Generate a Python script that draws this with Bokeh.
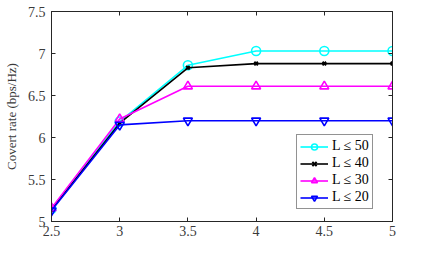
from bokeh.plotting import figure
from bokeh.models import LinearAxis, FixedTicker, Legend, LegendItem, Label, Range1d
from bokeh.embed import file_html
from bokeh.resources import INLINE

x_vals = [2.5, 3, 3.5, 4, 4.5, 5]
l50 = [5.15, 6.19, 6.86, 7.03, 7.03, 7.03]
l40 = [5.14, 6.17, 6.83, 6.88, 6.88, 6.88]
l30 = [5.16, 6.22, 6.61, 6.61, 6.61, 6.61]
l20 = [5.13, 6.15, 6.20, 6.20, 6.20, 6.20]
labels = ["L \u2264 50", "L \u2264 40", "L \u2264 30", "L \u2264 20"]
x_ticks = [2.5, 3, 3.5, 4, 4.5, 5]
y_ticks = [5, 5.5, 6, 6.5, 7, 7.5]

FONT = "Liberation Serif"
TXT = "#3a3a3a"
p = figure(width=427, height=258, output_backend="svg", toolbar_location=None,
           x_range=Range1d(2.5, 5), y_range=Range1d(5, 7.5),
           min_border_left=50, min_border_right=35, min_border_top=11, min_border_bottom=37)
p.xgrid.visible = False
p.ygrid.visible = False
p.outline_line_color = "#262626"
p.background_fill_color = "white"

for ax in [p.xaxis[0], p.yaxis[0]]:
    ax.major_tick_in = 4
    ax.major_tick_out = 0
    ax.minor_tick_in = 0
    ax.minor_tick_out = 0
    ax.axis_line_color = "#262626"
    ax.major_tick_line_color = "#262626"
    ax.major_label_text_font = FONT
    ax.major_label_text_font_size = "14px"
    ax.major_label_text_color = TXT
p.xaxis[0].ticker = FixedTicker(ticks=x_ticks)
p.yaxis[0].ticker = FixedTicker(ticks=y_ticks)
p.xaxis[0].major_label_standoff = 4
p.yaxis[0].major_label_standoff = 6
p.yaxis[0].axis_label = "Covert rate (bps/Hz)"
p.yaxis[0].axis_label_text_font = FONT
p.yaxis[0].axis_label_text_font_style = "normal"
p.yaxis[0].axis_label_text_font_size = "13px"
p.yaxis[0].axis_label_text_color = TXT
p.yaxis[0].axis_label_standoff = 6

for side, tk in [("above", x_ticks), ("right", y_ticks)]:
    ax = LinearAxis(ticker=FixedTicker(ticks=tk), major_tick_in=4, major_tick_out=0,
                    minor_tick_in=0, minor_tick_out=0,
                    major_label_overrides={float(t): "" for t in tk},
                    axis_line_color="#262626", major_tick_line_color="#262626",
                    major_label_standoff=0)
    p.add_layout(ax, side)

series = [
    (l50, "#00FFFF", "circle"),
    (l40, "#000000", "x"),
    (l30, "#FF00FF", "triangle"),
    (l20, "#0000FF", "inverted_triangle"),
]
items = []
for (vals, col, mk), lab in zip(series, labels):
    r1 = p.line(x_vals, vals, line_color=col, line_width=1.6)
    if mk == "x":
        r2 = p.scatter(x_vals, vals, marker="x", size=5, line_color=col, line_width=2)
    else:
        r2 = p.scatter(x_vals, vals, marker=mk, size=9, line_color=col, fill_color=None, line_width=1.6)
    items.append(LegendItem(label=lab, renderers=[r1, r2]))

leg = Legend(items=items, location=(245, 12))
leg.label_text_font = FONT
leg.label_text_font_size = "14px"
leg.label_text_color = "#000000"
leg.glyph_width = 28
leg.glyph_height = 15
leg.label_height = 15
leg.spacing = 1
leg.padding = 3
leg.margin = 0
leg.label_standoff = 4
leg.border_line_color = "#262626"
leg.border_line_width = 1
p.add_layout(leg, "center")

# x-axis label built from pieces: P_{b,max}(w)
p.add_layout(Label(x=145, y=-30, x_units="screen", y_units="screen", text="P",
                   text_font=FONT, text_font_style="italic", text_font_size="14px",
                   text_color=TXT, text_baseline="alphabetic"))
p.add_layout(Label(x=153, y=-32, x_units="screen", y_units="screen", text="b,max",
                   text_font=FONT, text_font_size="10px", text_color=TXT,
                   text_baseline="alphabetic"))
p.add_layout(Label(x=174, y=-30, x_units="screen", y_units="screen", text="(w)",
                   text_font=FONT, text_font_size="14px", text_color=TXT,
                   text_baseline="alphabetic"))

open("out.html", "w").write(file_html(p, INLINE))
